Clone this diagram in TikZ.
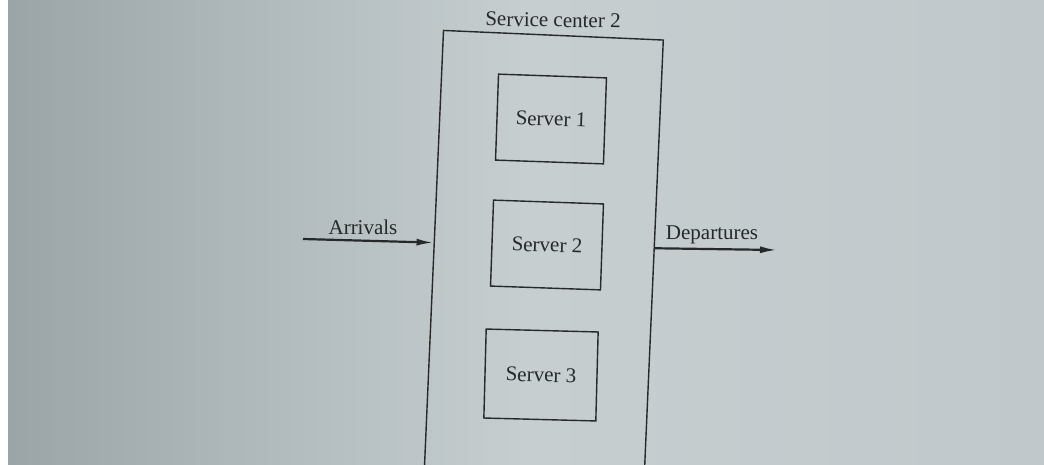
\documentclass[tikz,border=0pt]{standalone}
\usepackage{fontspec}
\setmainfont{Liberation Serif}
\usetikzlibrary{arrows.meta,calc}
\definecolor{ink}{RGB}{38,40,42}
\definecolor{pageL}{RGB}{155,165,168}
\definecolor{pageM}{RGB}{198,206,208}
\definecolor{pageR}{RGB}{192,200,203}
\begin{document}
\begin{tikzpicture}[x=1pt,y=1pt,
  txt/.style={text=ink,font=\fontsize{21}{24}\selectfont,inner sep=0pt},
  box/.style={txt,draw=ink,line width=1.4pt,rectangle},
  flow/.style={draw=ink,line width=2.2pt,-{Latex[length=17pt,width=7pt]}}]
\useasboundingbox (0,0) rectangle (1044,464);
\fill[white] (0,0) rectangle (8,464);
\shade[left color=pageL,right color=pageR,middle color=pageM] (8,0) rectangle (1044,464);
\clip (0,0) rectangle (1044,464);
% service centre (runs off the bottom of the picture)
\node[box,minimum width=220pt,minimum height=500pt,rotate=-2.5] (centre) at (542.5,179) {};
\node[txt,rotate=-1] (title) at (553,444) {Service center 2};
% servers
\node[box,minimum width=108pt,minimum height=86pt,rotate=-2] (s1) at (551,345) {Server 1};
\node[box,minimum width=110pt,minimum height=86pt,rotate=-2] (s2) at (547,219) {Server 2};
\node[box,minimum width=112pt,minimum height=89pt,rotate=-1.5] (s3) at (541,89) {Server 3};
% arrivals
\coordinate (arrStart) at (303,225);
\coordinate (arrEnd) at ($(centre.north west)!0.425!(centre.south west)$);
\draw[flow] (arrStart) -- (arrEnd);
\node[txt] (arrLbl) at (363,237) {Arrivals};
% departures
\coordinate (depStart) at ($(centre.north east)!0.417!(centre.south east)$);
\coordinate (depEnd) at (777,214);
\draw[flow] (depStart) -- (depEnd);
\node[txt] (depLbl) at (712,229) {Departures};
\end{tikzpicture}
\end{document}
